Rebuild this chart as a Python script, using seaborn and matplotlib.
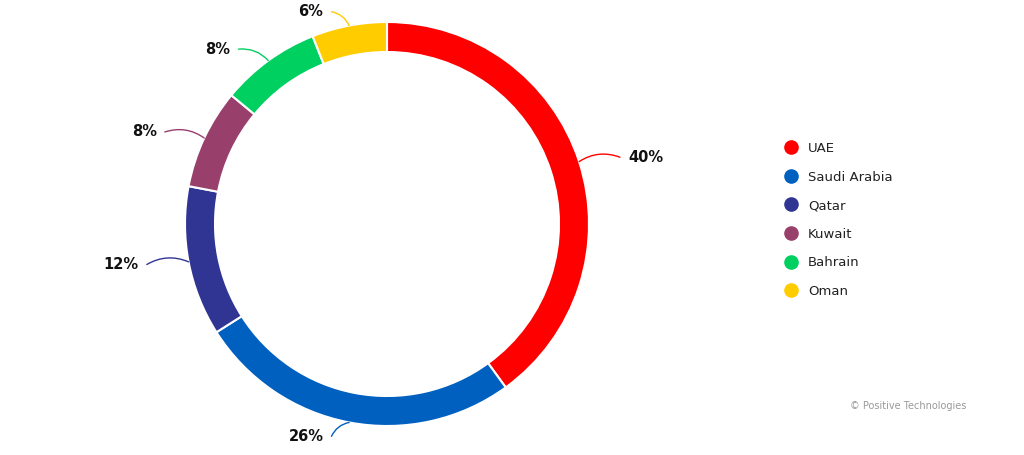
import numpy as np
import matplotlib
matplotlib.use("Agg")
import matplotlib.pyplot as plt
import seaborn as sns
from matplotlib.lines import Line2D

countries = ["UAE", "Saudi Arabia", "Qatar", "Kuwait", "Bahrain", "Oman"]
shares = [40, 26, 12, 8, 8, 6]
colors = ["#ff0000", "#0060bf", "#303593", "#993f6c", "#00d060", "#ffcc00"]


def main():
    sns.set_theme(style="white")
    plt.rcParams["font.family"] = ["DejaVu Sans"]

    fig = plt.figure(figsize=(10.24, 4.55), dpi=100)
    ax = fig.add_axes([0, 0, 1, 1])

    # axes in pixel units, y up
    cx, cy, r = 387, 231, 202
    palette = sns.color_palette(colors)
    wedges, _ = ax.pie(
        shares,
        colors=palette,
        startangle=90,
        counterclock=False,
        radius=r,
        center=(cx, cy),
        wedgeprops=dict(width=30, edgecolor="white", linewidth=1.5),
        frame=True,
    )
    ax.set_xlim(0, 1024)
    ax.set_ylim(0, 455)
    ax.set_aspect("auto")
    ax.axis("off")

    # labels with curved connectors
    for w, val, col in zip(wedges, shares, palette):
        ang = np.deg2rad((w.theta1 + w.theta2) / 2)
        c, s = np.cos(ang), np.sin(ang)
        right = c > 0
        sign = 1 if right else -1
        start = (cx + r * c, cy + r * s)
        end = (cx + 1.15 * r * c + 12 * sign, cy + 1.07 * r * s)
        ax.annotate(
            "", xy=start, xytext=end,
            arrowprops=dict(arrowstyle="-", color=col, lw=1,
                            connectionstyle="arc3,rad=0.25" if right else "arc3,rad=-0.25",
                            shrinkA=0, shrinkB=0),
        )
        ax.text(end[0] + 8 * sign, end[1], f"{val}%",
                ha="left" if right else "right", va="center",
                fontsize=10.5, fontweight="bold", color="#111111")

    handles = [Line2D([], [], marker="o", ls="", markersize=9.5, color=col) for col in palette]
    ax.legend(handles, countries, loc="upper left", bbox_to_anchor=(0.766, 0.688),
              frameon=False, fontsize=9.5, handlelength=1.0, handletextpad=0.8,
              labelspacing=1.18, borderpad=0, borderaxespad=0,
              labelcolor="#222222")

    ax.text(966, 455 - 406, "\u00a9 Positive Technologies", ha="right", va="center",
            fontsize=7, color="#999999")

    fig.savefig("out.png", dpi=100)
    plt.close(fig)


if __name__ == "__main__":
    main()
